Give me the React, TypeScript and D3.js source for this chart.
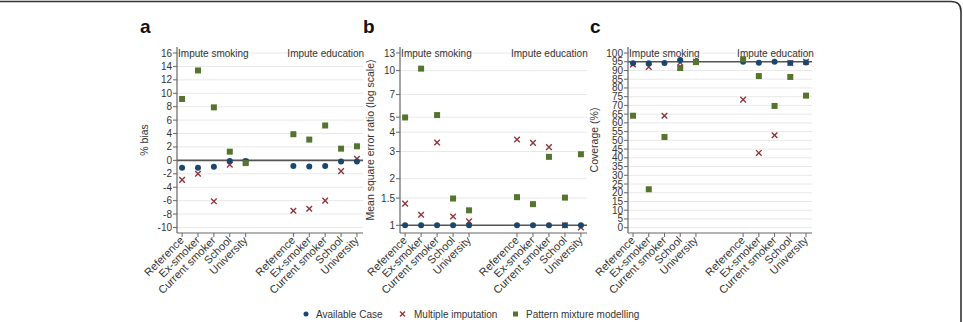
import React from "react";
import * as d3 from "d3";

const categories = ["Reference", "Ex-smoker", "Current smoker", "School", "University"];
const groupLabels = ["Impute smoking", "Impute education"];
const seriesNames = ["Available Case", "Multiple imputation", "Pattern mixture modelling"];

const biasAvailable = [-1.1, -1.1, -0.95, -0.1, -0.1, -0.85, -0.9, -0.85, -0.15, -0.15];
const biasMI = [-2.9, -2.0, -6.1, -0.65, -0.2, -7.5, -7.2, -6.0, -1.6, 0.25];
const biasPMM = [9.15, 13.4, 7.9, 1.3, -0.4, 3.9, 3.1, 5.2, 1.75, 2.1];

const mseAvailable = [1, 1, 1, 1, 1, 1, 1, 1, 1, 1];
const mseMI = [1.38, 1.17, 3.43, 1.14, 1.06, 3.59, 3.41, 3.2, 1.0, 0.97];
const msePMM = [4.98, 10.3, 5.16, 1.49, 1.25, 1.52, 1.37, 2.77, 1.51, 2.88];

const covAvailable = [94.1, 94.1, 94.3, 96, 94.8, 95, 94.4, 95, 94.3, 94.6];
const covMI = [93.5, 92, 64.1, 94.5, 95, 73.3, 42.8, 52.9, 94.3, 95];
const covPMM = [64.1, 22, 51.9, 91.4, 94.8, 96.4, 86.8, 69.7, 86.3, 75.6];

const biasTicks = [-10, -8, -6, -4, -2, 0, 2, 4, 6, 8, 10, 12, 14, 16];
const mseTicks = [1, 1.5, 2, 3, 4, 5, 7, 10, 13];
const covTicks = d3.range(0, 101, 5);

const NAVY = "#1a476f";
const MAROON = "#90353b";
const GREEN = "#55752f";
const FONT = "'Liberation Sans', Arial, sans-serif";

type PanelProps = {
  letter: string;
  letterX: number;
  left: number;
  width: number;
  yScale: any;
  ticks: number[];
  refValue: number;
  title: string;
  titleX: number;
  avail: number[];
  mi: number[];
  pmm: number[];
  fmt: (v: number) => string;
};

const TOP = 47;
const BOTTOM = 233;

function slotOf(i: number) {
  return i < 5 ? i : i + 2;
}

function Panel(p: PanelProps) {
  const x = d3.scaleLinear().domain([-0.32, 11.38]).range([p.left, p.left + p.width]);
  const right = p.left + p.width;
  const xs = d3.range(10).map((i) => x(slotOf(i)));
  const cat = (i: number) => categories[i % 5];
  return (
    <g>
      <text x={p.letterX} y={33} fontSize={19} fontWeight="bold" fill="#111" fontFamily={FONT}>
        {p.letter}
      </text>
      {p.ticks.map((t) => (
        <line key={"g" + t} x1={p.left} x2={right} y1={p.yScale(t)} y2={p.yScale(t)} stroke="#e8e8e8" strokeWidth={1} />
      ))}
      <line x1={p.left} x2={right} y1={p.yScale(p.refValue)} y2={p.yScale(p.refValue)} stroke="#555" strokeWidth={1.6} />
      {p.ticks.map((t) => (
        <g key={"t" + t}>
          <line x1={p.left - 4} x2={p.left} y1={p.yScale(t)} y2={p.yScale(t)} stroke="#666" />
          <text x={p.left - 5} y={p.yScale(t) + 3.5} fontSize={10} textAnchor="end" fill="#333" fontFamily={FONT}>
            {p.fmt(t)}
          </text>
        </g>
      ))}
      <line x1={p.left} x2={p.left} y1={TOP} y2={BOTTOM} stroke="#666" strokeWidth={1.2} />
      <line x1={p.left} x2={right} y1={BOTTOM} y2={BOTTOM} stroke="#666" strokeWidth={1.2} />
      <text
        transform={`translate(${p.titleX},${(TOP + BOTTOM) / 2}) rotate(-90)`}
        textAnchor="middle"
        fontSize={10.5}
        fill="#333"
        fontFamily={FONT}
      >
        {p.title}
      </text>
      <text x={xs[0] - 4} y={57} fontSize={10} fill="#333" fontFamily={FONT}>
        {groupLabels[0]}
      </text>
      <text x={xs[5] - 6} y={57} fontSize={10} fill="#333" fontFamily={FONT}>
        {groupLabels[1]}
      </text>
      {xs.map((xx, i) => (
        <g key={"x" + i}>
          <line x1={xx} x2={xx} y1={BOTTOM} y2={BOTTOM + 4} stroke="#666" />
          <text
            transform={`translate(${xx + 2.5},${BOTTOM + 8}) rotate(-45)`}
            textAnchor="end"
            fontSize={11}
            fill="#333"
            fontFamily={FONT}
          >
            {cat(i)}
          </text>
        </g>
      ))}
      {p.mi.map((v, i) => {
        const cx = xs[i];
        const cy = p.yScale(v);
        const s = 2.8;
        return (
          <path
            key={"m" + i}
            d={`M${cx - s},${cy - s}L${cx + s},${cy + s}M${cx - s},${cy + s}L${cx + s},${cy - s}`}
            stroke={MAROON}
            strokeWidth={1.4}
          />
        );
      })}
      {p.avail.map((v, i) => (
        <circle key={"a" + i} cx={xs[i]} cy={p.yScale(v)} r={3} fill={NAVY} />
      ))}
      {p.pmm.map((v, i) => (
        <rect key={"p" + i} x={xs[i] - 3} y={p.yScale(v) - 3} width={6} height={6} fill={GREEN} />
      ))}
    </g>
  );
}

export default function App() {
  const yBias = d3.scaleLinear().domain([-10, 16]).range([227.5, 53]);
  const yMse = d3.scaleLog().domain([1, 13]).range([225.3, 53]);
  const yCov = d3.scaleLinear().domain([0, 100]).range([227.7, 53]);
  const legendY = 314;
  return (
    <div style={{ position: "absolute", left: 0, top: 0 }}>
      <svg width={963} height={322} style={{ display: "block", background: "#fff" }}>
        <path d="M0,1.5 H951 Q961,1.5 961,11.5 V322" fill="none" stroke="#333" strokeWidth={1.6} />
        <Panel
          letter="a"
          letterX={140}
          left={177}
          width={186}
          yScale={yBias}
          ticks={biasTicks}
          refValue={0}
          title="% bias"
          titleX={148}
          avail={biasAvailable}
          mi={biasMI}
          pmm={biasPMM}
          fmt={(v) => String(v)}
        />
        <Panel
          letter="b"
          letterX={363}
          left={400}
          width={187}
          yScale={yMse}
          ticks={mseTicks}
          refValue={1}
          title="Mean square error ratio (log scale)"
          titleX={374}
          avail={mseAvailable}
          mi={mseMI}
          pmm={msePMM}
          fmt={(v) => String(v)}
        />
        <Panel
          letter="c"
          letterX={590}
          left={628}
          width={184}
          yScale={yCov}
          ticks={covTicks}
          refValue={95}
          title="Coverage (%)"
          titleX={598}
          avail={covAvailable}
          mi={covMI}
          pmm={covPMM}
          fmt={(v) => String(v)}
        />
        <g fontFamily={FONT} fontSize={10} fill="#333">
          <circle cx={306} cy={legendY} r={2.5} fill={NAVY} />
          <text x={316} y={legendY + 3.5}>{seriesNames[0]}</text>
          <path
            d={`M${400},${legendY - 2.5}L${405},${legendY + 2.5}M${400},${legendY + 2.5}L${405},${legendY - 2.5}`}
            stroke={MAROON}
            strokeWidth={1.3}
          />
          <text x={414} y={legendY + 3.5}>{seriesNames[1]}</text>
          <rect x={513} y={legendY - 2.5} width={5} height={5} fill={GREEN} />
          <text x={526} y={legendY + 3.5}>{seriesNames[2]}</text>
        </g>
      </svg>
    </div>
  );
}
